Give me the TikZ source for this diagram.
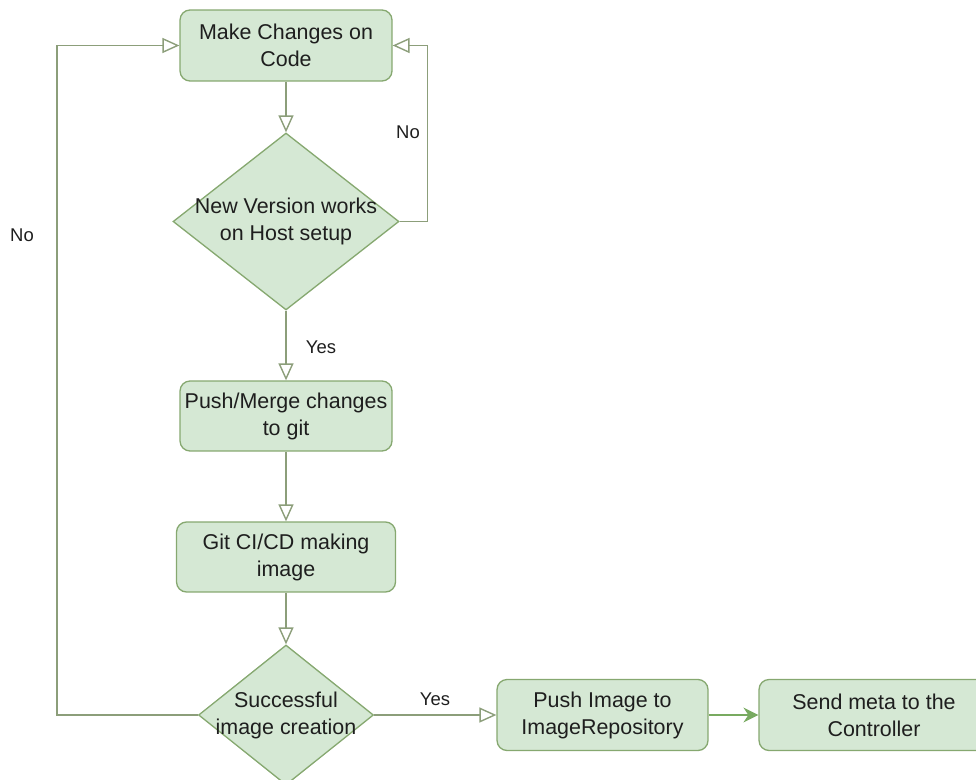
\documentclass[tikz,border=0pt]{standalone}
\usepackage{fontspec}
\setmainfont{Liberation Sans}
\usetikzlibrary{arrows.meta,shapes.geometric}

\begin{document}
\begin{tikzpicture}[
  x=0.02cm, y=-0.02cm,
  font=\fontsize{12.2}{15.4}\selectfont,
  stepbox/.style={draw=flowEdge, fill=flowFill, rounded corners=0.2cm, line width=0.75pt,
                  text=flowText, align=center, minimum height=1.42cm, inner sep=0pt},
  choice/.style={diamond, draw=flowEdge, fill=flowFill, line width=0.75pt, inner sep=0pt},
  flow/.style={draw=flowLine, line width=0.8pt, -{Triangle[open, length=0.34cm, width=0.3cm]}},
  pass/.style={draw=flowArrow, line width=0.8pt, -{Stealth[length=0.3cm, width=0.3cm, inset=0.1cm]}},
  lab/.style={font=\fontsize{10.5}{12}\selectfont, text=flowText}
]
\definecolor{flowFill}{RGB}{213,232,212}
\definecolor{flowEdge}{RGB}{134,168,112}
\definecolor{flowLine}{RGB}{140,158,122}
\definecolor{flowArrow}{RGB}{120,170,96}
\definecolor{flowText}{RGB}{30,30,30}

\useasboundingbox (0,0) rectangle (976,780);

% main column
\node[stepbox, minimum width=4.24cm] (code) at (286,45.5) {Make Changes on\\Code};
\node[choice, minimum width=4.52cm, minimum height=3.54cm,
      label={[align=center, text=flowText]center:{New Version works\\on Host setup}}] (check) at (286,221.5) {};
\node[stepbox, minimum width=4.24cm, minimum height=1.40cm] (merge) at (286,416) {Push/Merge changes\\to git};
\node[stepbox, minimum width=4.38cm, minimum height=1.40cm] (build) at (286,557) {Git CI/CD making\\image};
\node[choice, minimum width=3.5cm, minimum height=2.8cm,
      label={[align=center, text=flowText]center:{Successful\\image creation}}] (result) at (286,715) {};

% bottom row
\node[stepbox, minimum width=4.22cm] (pushimg) at (602.5,715) {Push Image to\\ImageRepository};
\node[stepbox, minimum width=4.6cm] (meta) at (874,715) {Send meta to the\\Controller};

\draw[flow] (code.south) -- (check.north);
\draw[flow] (check.south) -- (merge.north);
\draw[flow] (merge.south) -- (build.north);
\draw[flow] (build.south) -- (result.north);
\draw[flow] (result.east) -- (pushimg.west);
\draw[pass] (pushimg.east) -- (meta.west);

% loops back to the top
\draw[flow] (check.east) -- ++(28,0) |- (code.east);
\draw[flow] (result.west) -- ++(-141,0) |- (code.west);

\node[lab] (noRight) at (408,132) {No};
\node[lab] (noLeft) at (22,235) {No};
\node[lab] (yesDown) at (321,347) {Yes};
\node[lab] (yesRight) at (435,699) {Yes};
\end{tikzpicture}
\end{document}
